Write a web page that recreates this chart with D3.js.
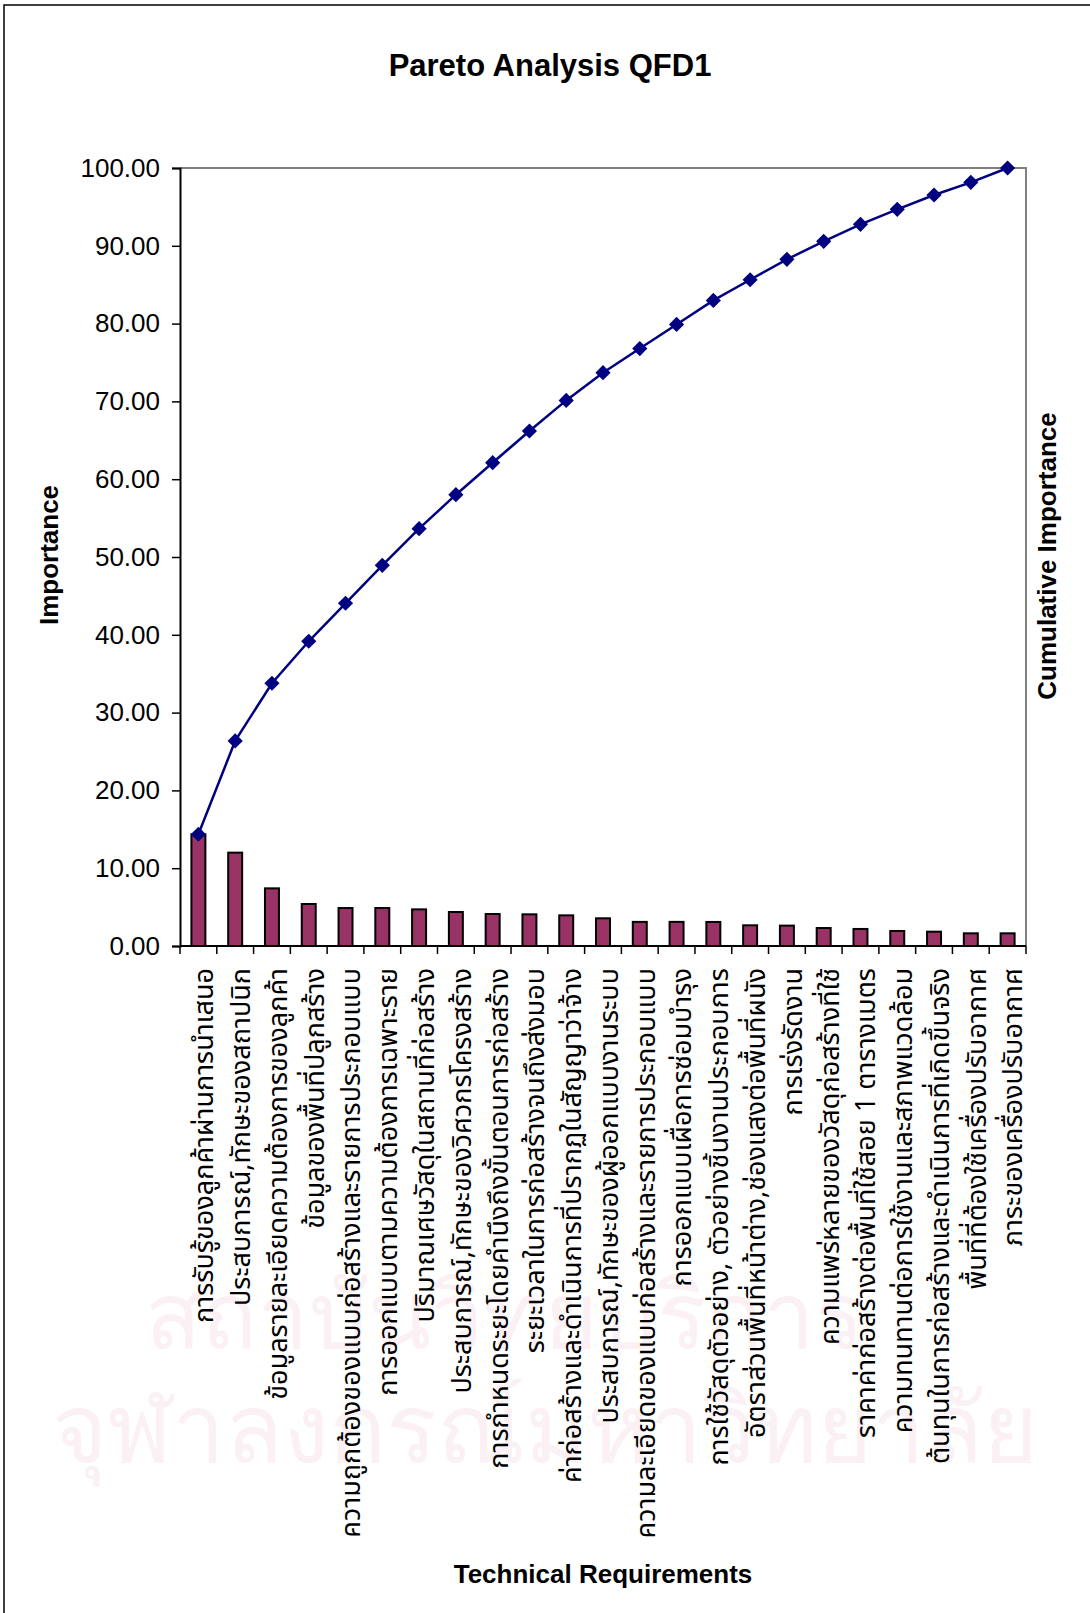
<!DOCTYPE html>
<html>
<head>
<meta charset="utf-8">
<script src="https://cdn.jsdelivr.net/npm/d3@7"></script>
<style>
  body { margin: 0; background: #fff; }
  svg { display: block; }
  text { font-family: "Liberation Sans", Arial, sans-serif; fill: #000; }
  .thai { font-family: Tahoma, "Noto Sans Thai", "Noto Sans Thai UI", Garuda, Loma, Norasi, sans-serif; }
</style>
</head>
<body>
<svg></svg>
<script>
// technical requirements, in pareto order
const requirements = [
  'การรับรู้ของลูกค้าผ่านการนำเสนอ',
  'ประสบการณ์,ทักษะของสถาปนิก',
  'ข้อมูลรายละเอียดความต้องการของลูกค้า',
  'ข้อมูลของพื้นที่ปลูกสร้าง',
  'ความถูกต้องของแบบก่อสร้างและรายการประกอบแบบ',
  'การออกแบบตามความต้องการเฉพาะราย',
  'ปริมาณเศษวัสดุในสถานที่ก่อสร้าง',
  'ประสบการณ์,ทักษะของวิศวกรโครงสร้าง',
  'การกำหนดระยะโดยคำนึงถึงขั้นตอนการก่อสร้าง',
  'ระยะเวลาในการก่อสร้างจนถึงส่งมอบ',
  'ค่าก่อสร้างและดำเนินการที่ปรากฏในสัญญาว่าจ้าง',
  'ประสบการณ์,ทักษะของผู้ออกแบบงานระบบ',
  'ความละเอียดของแบบก่อสร้างและรายการประกอบแบบ',
  'การออกแบบเผื่อการซ่อมบำรุง',
  'การใช้วัสดุตัวอย่าง, ตัวอย่างชิ้นงานประกอบการ',
  'อัตราส่วนพื้นที่หน้าต่าง,ช่องแสงต่อพื้นที่ผนัง',
  'การเร่งรัดงาน',
  'ความแพร่หลายของวัสดุก่อสร้างที่ใช้',
  'ราคาค่าก่อสร้างต่อพื้นที่ใช้สอย 1 ตารางเมตร',
  'ความทนทานต่อการใช้งานและสภาพแวดล้อม',
  'ต้นทุนในการก่อสร้างและดำเนินการที่เกิดขึ้นจริง',
  'พื้นที่ที่ต้องใช้เครื่องปรับอากาศ',
  'ภาระของเครื่องปรับอากาศ'
];

// importance (bars)
const importance = [14.36, 12.00, 7.41, 5.40, 4.88, 4.88, 4.71, 4.37, 4.11, 4.07, 3.94, 3.56,
  3.10, 3.10, 3.09, 2.66, 2.62, 2.31, 2.19, 1.93, 1.84, 1.63, 1.63];

// cumulative importance (line)
const cumulative = [14.36, 26.36, 33.77, 39.17, 44.05, 48.93, 53.64, 58.01, 62.12, 66.19, 70.13, 73.69,
  76.79, 79.89, 82.98, 85.64, 88.26, 90.57, 92.76, 94.69, 96.53, 98.16, 100.00];

const yTicks = [0, 10, 20, 30, 40, 50, 60, 70, 80, 90, 100];

// faint watermark lines on the scanned page
const watermark = ['สถาบันวิทยบริการ', 'จุฬาลงกรณ์มหาวิทยาลัย'];

const size = {w: 1090, h: 1613};
const plot = {l: 180, r: 1026, t: 168, b: 946};

const svg = d3.select('svg')
    .attr('width', size.w)
    .attr('height', size.h);

// watermark, sized so each line spans its width in the source
const wm = svg.append('g').attr('class', 'thai watermark');
const wmPos = [{cx: 505, y: 1348, w: 720}, {cx: 545, y: 1462, w: 990}];
wm.selectAll('text')
    .data(watermark)
    .join('text')
    .attr('x', (d, i) => wmPos[i].cx)
    .attr('y', (d, i) => wmPos[i].y)
    .attr('text-anchor', 'middle')
    .style('font-size', '100px')
    .style('fill', '#fbf0f4')
    .text(d => d)
    .each(function(d, i) {
        let len = this.getComputedTextLength();
        d3.select(this).style('font-size', (100 * wmPos[i].w / len) + 'px');
    });

// chart frame (only top and left edges fall inside the page)
svg.append('rect')
    .attr('x', 4).attr('y', 5)
    .attr('width', 1200).attr('height', 1700)
    .attr('fill', 'none')
    .attr('stroke', '#000')
    .attr('stroke-width', 1.5);

let x = d3.scaleBand()
    .domain(requirements)
    .range([plot.l, plot.r]);

let y = d3.scaleLinear()
    .domain([0, 100])
    .range([plot.b, plot.t]);

// plot area border: grey top and right
svg.append('path')
    .attr('d', `M${plot.l},${plot.t}H${plot.r}V${plot.b}`)
    .attr('fill', 'none')
    .attr('stroke', '#808080')
    .attr('stroke-width', 2);

// bars
let barW = x.bandwidth() * 0.38;
svg.append('g').classed('bars', true)
    .selectAll('rect')
    .data(importance)
    .join('rect')
    .attr('x', (d, i) => x(requirements[i]) + x.bandwidth() / 2 - barW / 2)
    .attr('y', d => y(d))
    .attr('width', barW)
    .attr('height', d => y(0) - y(d))
    .attr('fill', '#993366')
    .attr('stroke', '#000')
    .attr('stroke-width', 2);

// y axis
let yAxis = d3.axisLeft(y)
    .tickValues(yTicks)
    .tickFormat(d3.format('.2f'))
    .tickSize(8)
    .tickPadding(12);
let yG = svg.append('g')
    .attr('transform', `translate(${plot.l},0)`)
    .call(yAxis);
yG.select('.domain').attr('stroke', '#000').attr('stroke-width', 2);
yG.selectAll('.tick line').attr('stroke', '#000').attr('stroke-width', 1.5);
yG.selectAll('.tick text')
    .style('font-family', '"Liberation Sans", Arial, sans-serif')
    .style('font-size', '26px');

// x axis: ticks at category boundaries, taken from the band scale
let xG = svg.append('g').classed('x-axis', true);
xG.append('line')
    .attr('x1', plot.l).attr('x2', plot.r)
    .attr('y1', y(0)).attr('y2', y(0))
    .attr('stroke', '#000').attr('stroke-width', 2);
let bounds = requirements.map(r => x(r)).concat([plot.r]);
xG.selectAll('line.tick')
    .data(bounds)
    .join('line')
    .attr('class', 'tick')
    .attr('x1', d => d).attr('x2', d => d)
    .attr('y1', y(0)).attr('y2', y(0) + 8)
    .attr('stroke', '#000').attr('stroke-width', 1.5);

// category labels, rotated, end aligned just under the axis
let labelG = svg.append('g').classed('labels', true);
let labels = labelG.selectAll('text')
    .data(requirements)
    .join('text')
    .attr('class', 'thai')
    .attr('text-anchor', 'end')
    .attr('dy', '0.55em')
    .attr('transform', d => `translate(${x(d) + x.bandwidth() / 2},${y(0) + 22}) rotate(-90)`)
    .style('font-size', '24px')
    .text(d => d);

// fit the label font so the longest label spans what it does in the source
let len4 = labels.nodes()[4].getComputedTextLength();
let fs = 24 * 570 / len4;
labels.style('font-size', fs + 'px');

// cumulative line
let line = d3.line()
    .x((d, i) => x(requirements[i]) + x.bandwidth() / 2)
    .y(d => y(d));
svg.append('path')
    .datum(cumulative)
    .attr('d', line)
    .attr('fill', 'none')
    .attr('stroke', '#000080')
    .attr('stroke-width', 2.5);

let diamond = d3.symbol(d3.symbolSquare, 115);
svg.append('g').classed('markers', true)
    .selectAll('path')
    .data(cumulative)
    .join('path')
    .attr('transform', (d, i) => `translate(${x(requirements[i]) + x.bandwidth() / 2},${y(d)}) rotate(45)`)
    .attr('d', diamond)
    .attr('fill', '#000080');

// titles
svg.append('text')
    .attr('x', 550).attr('y', 76)
    .attr('text-anchor', 'middle')
    .style('font-size', '31px')
    .style('font-weight', 'bold')
    .text('Pareto Analysis QFD1');

svg.append('text')
    .attr('transform', 'translate(49,555) rotate(-90)')
    .attr('text-anchor', 'middle')
    .attr('dy', '0.35em')
    .style('font-size', '26px')
    .style('font-weight', 'bold')
    .text('Importance');

svg.append('text')
    .attr('transform', 'translate(1047,556) rotate(-90)')
    .attr('text-anchor', 'middle')
    .attr('dy', '0.35em')
    .style('font-size', '26px')
    .style('font-weight', 'bold')
    .text('Cumulative Importance');

svg.append('text')
    .attr('x', 603).attr('y', 1583)
    .attr('text-anchor', 'middle')
    .style('font-size', '26px')
    .style('font-weight', 'bold')
    .text('Technical Requirements');
</script>
</body>
</html>
